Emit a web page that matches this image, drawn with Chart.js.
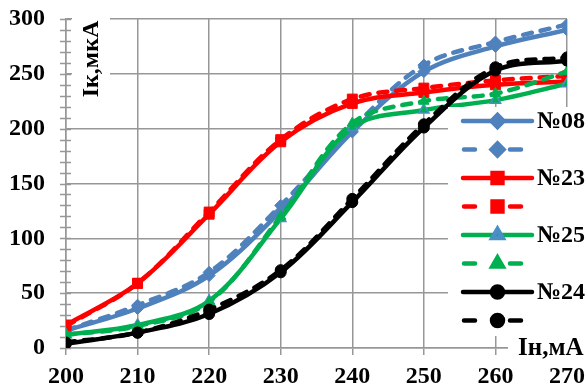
<!DOCTYPE html>
<html>
<head>
<meta charset="utf-8">
<script src="https://cdn.jsdelivr.net/npm/chart.js@4/dist/chart.umd.min.js"></script>
<style>
  html, body { margin: 0; padding: 0; background: #fff; }
  #wrap { width: 588px; height: 392px; }
</style>
</head>
<body>
<div id="wrap"><canvas id="chart" width="588" height="392"></canvas></div>
<script>
// Collector current vs heater current, four samples, two runs each
const currentIn = [200, 210, 220, 230, 240, 250, 260, 270];
const yTicks = [0, 50, 100, 150, 200, 250, 300];

const s08 = [16, 36, 66, 125, 197, 252, 275, 290];
const s08b = [16, 39, 69, 130, 200, 258, 279, 295];
const s23 = [21, 59, 122, 188, 223, 233, 240, 243];
const s23b = [20, 59, 124, 190, 227, 237, 244, 248];
const s25 = [12, 21, 43, 118, 201, 217, 226, 241];
const s25b = [12, 20, 42, 120, 205, 225, 232, 252];
const s24 = [4, 14, 31, 69, 133, 201, 253, 262];
const s24b = [5, 14, 35, 71, 136, 204, 256, 265];

const seriesNames = ["№08", "", "№23", "", "№25", "", "№24", ""];

const BLUE = "#4f81bd";
const RED = "#ff0000";
const GREEN = "#00b050";
const BLACK = "#000000";
const GRID = "#979797";
const SERIF = "'Liberation Serif', 'Times New Roman', serif";

function pts(values) {
  return values.map((v, i) => ({ x: currentIn[i], y: v }));
}

function series(name, values, color, style, radius, dashed, markerEdge) {
  return {
    label: name,
    data: pts(values),
    borderColor: color,
    backgroundColor: color,
    borderWidth: 4.5,
    borderDash: dashed ? [9, 9] : [],
    borderCapStyle: "round",
    borderJoinStyle: "round",
    tension: 0.35,
    pointStyle: style,
    pointRadius: radius,
    pointBackgroundColor: color,
    pointBorderColor: markerEdge || color,
    pointBorderWidth: markerEdge ? 1.5 : 1,
    dashed: dashed
  };
}

const datasets = [
  series(seriesNames[0], s08, BLUE, "rectRot", 6, false),
  series(seriesNames[1], s08b, BLUE, "rectRot", 6, true),
  series(seriesNames[2], s23, RED, "rect", 7, false),
  series(seriesNames[3], s23b, RED, "rect", 7, true),
  series(seriesNames[4], s25, GREEN, "triangle", 6, false, "#4a8fc4"),
  series(seriesNames[5], s25b, GREEN, "triangle", 6, true),
  series(seriesNames[6], s24, BLACK, "circle", 5.5, false),
  series(seriesNames[7], s24b, BLACK, "circle", 5.5, true)
];
// later series are painted over earlier ones
datasets.forEach((d, i) => { d.order = datasets.length - i; });

// white patches behind the in-plot axis titles, plus the minor y ticks
const underlay = {
  id: "underlay",
  beforeDatasetsDraw(chart) {
    const ctx = chart.ctx;
    const y = chart.scales.y;
    const area = chart.chartArea;
    ctx.save();
    ctx.strokeStyle = GRID;
    ctx.lineWidth = 1.5;
    for (let v = 0; v <= 300; v += 10) {
      const py = Math.round(y.getPixelForValue(v)) + 0.5;
      ctx.beginPath();
      ctx.moveTo(area.left - 6, py);
      ctx.lineTo(area.left + 5, py);
      ctx.stroke();
    }
    ctx.fillStyle = "#fff";
    ctx.fillRect(area.left + 6, area.top - 8, 38, 96);
    ctx.fillStyle = "#000";
    ctx.font = "bold 24px " + SERIF;
    ctx.textAlign = "center";
    ctx.textBaseline = "middle";
    ctx.translate(area.left + 26, area.top + 40);
    ctx.rotate(-Math.PI / 2);
    ctx.fillText("Iк,мкА", 0, 0);
    ctx.restore();
  }
};

// legend box and x title drawn over the plot's right edge
const overlay = {
  id: "overlay",
  afterDraw(chart) {
    const ctx = chart.ctx;
    const area = chart.chartArea;
    ctx.save();
    ctx.fillStyle = "#fff";
    ctx.fillRect(448, 107, 140, 229);
    ctx.fillRect(508, area.bottom - 13, 80, 26);

    const x0 = 463, x1 = 532, xm = 497.5;
    chart.data.datasets.forEach((d, i) => {
      const yy = 121 + i * 28.5;
      ctx.strokeStyle = d.borderColor;
      ctx.lineWidth = 4.5;
      ctx.lineCap = "round";
      ctx.beginPath();
      if (d.dashed) {
        ctx.moveTo(464, yy); ctx.lineTo(475, yy);
        ctx.moveTo(510, yy); ctx.lineTo(521, yy);
      } else {
        ctx.moveTo(x0, yy); ctx.lineTo(x1, yy);
      }
      ctx.stroke();
      ctx.fillStyle = d.pointBackgroundColor;
      ctx.strokeStyle = d.pointBorderColor;
      Chart.helpers.drawPoint(ctx, {
        pointStyle: d.pointStyle,
        radius: d.pointRadius,
        rotation: 0,
        borderWidth: d.pointBorderWidth
      }, xm, yy);
      if (d.label) {
        ctx.fillStyle = "#000";
        ctx.font = "bold 24px " + SERIF;
        ctx.textAlign = "left";
        ctx.textBaseline = "middle";
        ctx.fillText(d.label, 537, yy + 1);
      }
    });

    ctx.fillStyle = "#000";
    ctx.font = "bold 25px " + SERIF;
    ctx.textAlign = "left";
    ctx.textBaseline = "middle";
    ctx.fillText("Iн,мА", 518, area.bottom + 1);
    ctx.restore();
  }
};

new Chart(document.getElementById("chart"), {
  type: "line",
  data: { datasets: datasets },
  options: {
    responsive: false,
    animation: false,
    layout: { padding: { top: 19, right: 21, left: 0, bottom: 0 } },
    plugins: {
      legend: { display: false },
      tooltip: { enabled: false }
    },
    scales: {
      x: {
        type: "linear",
        min: 200,
        max: 270,
        afterBuildTicks: (scale) => { scale.ticks = currentIn.map(v => ({ value: v })); },
        afterFit: (scale) => {
          scale.height = 44;
          scale.paddingLeft = 0;
          scale.paddingRight = 0;
        },
        grid: { color: GRID, lineWidth: 1.5, tickLength: 7, drawTicks: true },
        border: { color: GRID, width: 1.5 },
        ticks: {
          color: "#000",
          padding: 7,
          maxRotation: 0,
          font: { family: SERIF, size: 24, weight: "bold" }
        }
      },
      y: {
        min: 0,
        max: 300,
        afterBuildTicks: (scale) => { scale.ticks = yTicks.map(v => ({ value: v })); },
        afterFit: (scale) => {
          scale.width = 66;
          scale.paddingTop = 0;
          scale.paddingBottom = 0;
        },
        grid: { color: GRID, lineWidth: 1.5, drawTicks: false },
        border: { color: GRID, width: 1.5 },
        ticks: {
          color: "#000",
          padding: 21,
          font: { family: SERIF, size: 24, weight: "bold" }
        }
      }
    }
  },
  plugins: [underlay, overlay]
});
</script>
</body>
</html>
